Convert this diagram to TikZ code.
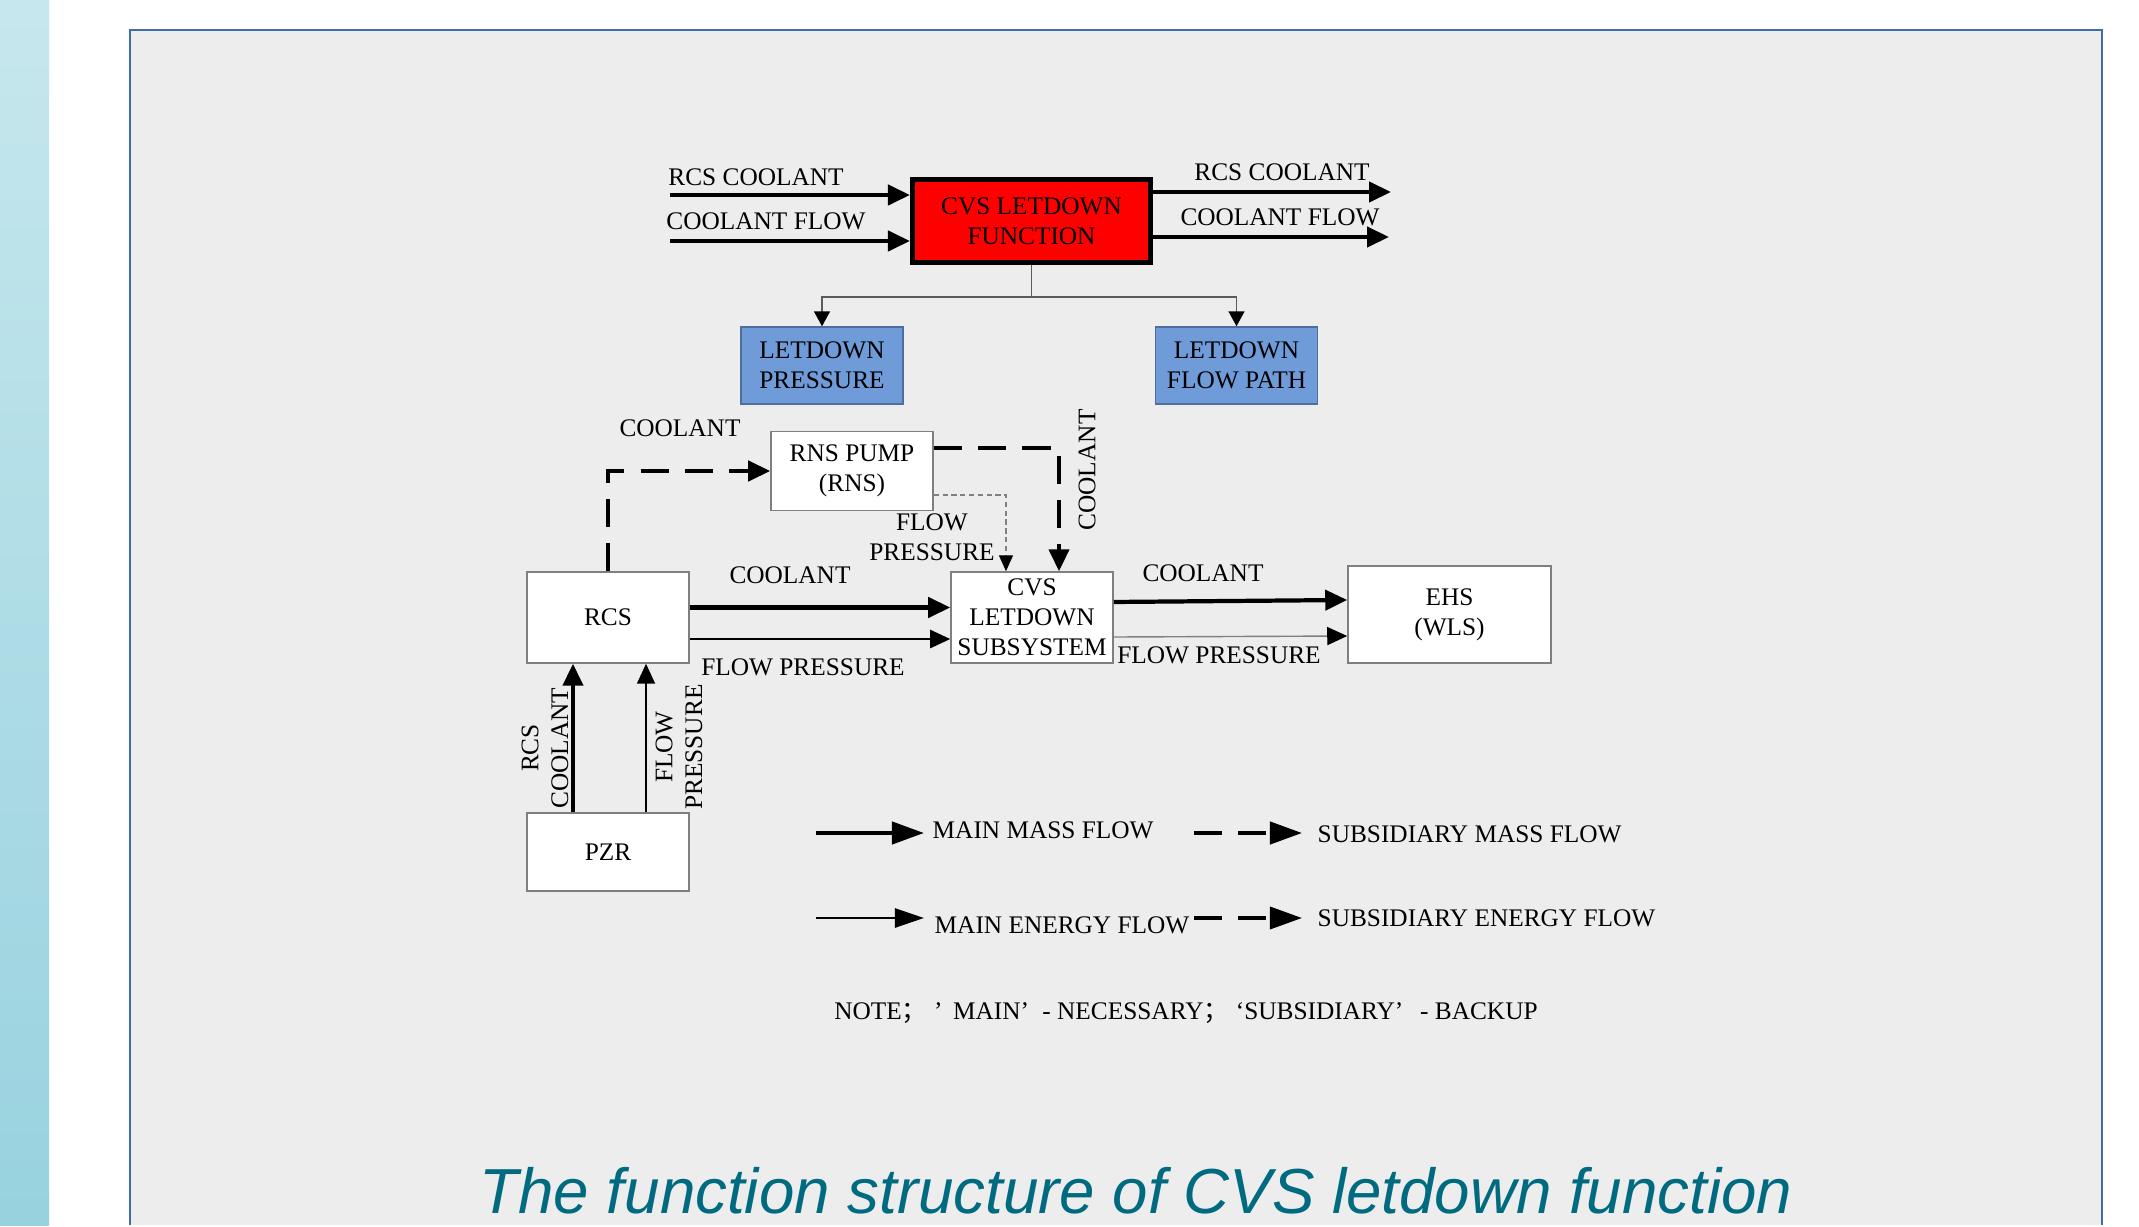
\documentclass[tikz,border=0pt]{standalone}
\usepackage{fontspec}
\usetikzlibrary{arrows.meta}
\newfontfamily\diagserif{Liberation Serif}
\newfontfamily\titlesans{Liberation Sans}
\newfontfamily\cjk{Noto Sans CJK SC}
\newcommand\lblfont{\diagserif\fontsize{7.2pt}{8.5pt}\selectfont}
\definecolor{panel}{HTML}{EDEDED}
\definecolor{frameblue}{HTML}{3E6EA6}
\definecolor{striptop}{HTML}{C6E7ED}
\definecolor{stripbot}{HTML}{98D2DF}
\definecolor{subblue}{HTML}{6F9CD9}
\definecolor{subline}{HTML}{4F6E9E}
\definecolor{boxline}{HTML}{7F7F7F}
\definecolor{treegray}{HTML}{5A5A5A}
\definecolor{titleteal}{HTML}{006B80}
\begin{document}
\begin{tikzpicture}[x=0.01cm, y=-0.01cm, font=\lblfont,
  box/.style={draw=boxline, fill=white, align=center, inner sep=0pt,
              minimum width=1.62cm},
  subfn/.style={box, fill=subblue, draw=subline, minimum height=0.77cm},
  mass/.style={line width=1.2pt, -{Triangle[length=2.2mm,width=2mm]}},
  energy/.style={line width=0.7pt, -{Triangle[length=2mm,width=1.8mm]}},
  thinenergy/.style={line width=0.4pt, draw=gray, -{Triangle[length=2mm,width=1.8mm,color=black]}},
  submass/.style={mass, dash pattern=on 8pt off 4.6pt},
  subenergy/.style={line width=0.4pt, draw=gray, dash pattern=on 1.5pt off 1pt,
                    -{Triangle[length=1.6mm,width=1.4mm,color=black]}},
  treeline/.style={line width=0.45pt, draw=treegray, -{Triangle[length=1.5mm,width=1.6mm,color=black]}},
  bighead/.style={-{Triangle[length=3.2mm,width=2.2mm]}},
  tag/.style={inner sep=0pt, align=center}]

% page, strip and panel
\fill[white] (0,0) rectangle (2139,1225);
\shade[top color=striptop, bottom color=stripbot] (0,0) rectangle (49,1225);
\fill[panel] (130,30) rectangle (2102,1225);
\draw[frameblue, line width=0.7pt] (130,1225) -- (130,30) -- (2102,30) -- (2102,1225);

% function and its sub-functions
\node[box, fill=red, draw=black, line width=1.4pt, minimum width=2.38cm, minimum height=0.83cm]
  (fn) at (1031.5,221) {CVS LETDOWN\\FUNCTION};
\node[subfn] (ldp) at (822,365.5) {LETDOWN\\PRESSURE};
\node[subfn] (ldf) at (1236.5,365.5) {LETDOWN\\FLOW PATH};

\coordinate (in1) at (670,195);
\coordinate (in2) at (670,241);
\coordinate (out1) at (1391,192);
\coordinate (out2) at (1389,237);
\draw[mass] (in1) -- (in1 -| fn.west);
\draw[mass] (in2) -- (in2 -| fn.west);
\draw[mass] (out1 -| fn.east) -- (out1);
\draw[mass] (out2 -| fn.east) -- (out2);
\node[tag] (tin1) at (756,177) {RCS COOLANT};
\node[tag] (tin2) at (766,221) {COOLANT FLOW};
\node[tag] (tout1) at (1282,172) {RCS COOLANT};
\node[tag] (tout2) at (1280,217) {COOLANT FLOW};

\coordinate (fork) at (1031.5,297);
\draw[treegray, line width=0.45pt] (fn.south) -- (fork);
\draw[treeline] (fork) -| (ldp.north);
\draw[treeline] (fork) -| (ldf.north);

% systems
\node[box, minimum height=0.79cm] (rns) at (852,471) {RNS PUMP\\(RNS)};
\node[box, minimum height=0.91cm] (rcs) at (608,617.5) {RCS};
\node[box, minimum height=0.91cm] (cvs) at (1032,617.5) {CVS\\LETDOWN\\SUBSYSTEM};
\node[box, minimum width=2.03cm, minimum height=0.97cm] (ehs) at (1449.5,614.5) {EHS\\(WLS)};
\node[box, minimum height=0.78cm] (pzr) at (608,852) {PZR};

\draw[submass] (rcs.north) |- (rns.west);
\draw[submass] ([yshift=0.23cm]rns.east) -| ([xshift=0.27cm]cvs.north);
\draw[subenergy] ([yshift=-0.24cm]rns.east) -| ([xshift=-0.26cm]cvs.north);
\draw[mass] ([yshift=0.1cm]rcs.east) -- ([yshift=0.1cm]cvs.west);
\draw[energy] ([yshift=-0.215cm]rcs.east) -- ([yshift=-0.215cm]cvs.west);
\draw[mass] ([yshift=0.155cm]cvs.east) -- ([yshift=0.145cm]ehs.west);
\draw[thinenergy] ([yshift=-0.195cm]cvs.east) -- ([yshift=-0.215cm]ehs.west);
\draw[mass] ([xshift=-0.35cm]pzr.north) -- ([xshift=-0.35cm]rcs.south);
\draw[energy, line width=0.5pt] ([xshift=0.38cm]pzr.north) -- ([xshift=0.38cm]rcs.south);

\node[tag] (t1) at (680,428) {COOLANT};
\node[tag, rotate=90] (t2) at (1087,470) {COOLANT};
\node[tag] (t3) at (932,537) {FLOW\\PRESSURE};
\node[tag] (t4) at (790,575) {COOLANT};
\node[tag] (t5) at (803,667) {FLOW PRESSURE};
\node[tag] (t6) at (1203,573) {COOLANT};
\node[tag] (t7) at (1219,655) {FLOW PRESSURE};
\node[tag, rotate=90] (t8) at (545,748) {RCS\\COOLANT};
\node[tag, rotate=90] (t9) at (679,747) {FLOW\\PRESSURE};

% legend
\node[tag, anchor=west] (lgmm) at (932,830) {MAIN MASS FLOW};
\node[tag, anchor=west] (lgsm) at (1317,834) {SUBSIDIARY MASS FLOW};
\node[tag, anchor=west] (lgme) at (934,925) {MAIN ENERGY FLOW};
\node[tag, anchor=west] (lgse) at (1317,918) {SUBSIDIARY ENERGY FLOW};
\coordinate (lgmm0) at (816,833);
\coordinate (lgsm0) at (1194,833);
\coordinate (lgme0) at (816,918);
\coordinate (lgse0) at (1194,918);
\draw[mass, bighead] (lgmm0) -- (924,833);
\draw[submass, bighead] (lgsm0) -- (1302,833);
\draw[energy, -{Triangle[length=2.9mm,width=1.9mm]}] (lgme0) -- (924,918);
\draw[submass, line width=1pt, bighead] (lgse0) -- (1302,918);
\node[tag] (note) at (1186,1013)
  {NOTE{\cjk ；}\hspace{2pt}’\hspace{3pt}MAIN’\hspace{2pt} - NECESSARY{\cjk ；}\hspace{2pt}‘SUBSIDIARY’\hspace{3pt} - BACKUP};

\node[anchor=base, inner sep=0pt, text=titleteal,
      font=\titlesans\itshape\fontsize{18.1pt}{20pt}\selectfont]
  (title) at (1136,1213) {The function structure of CVS letdown function};
\end{tikzpicture}
\end{document}
